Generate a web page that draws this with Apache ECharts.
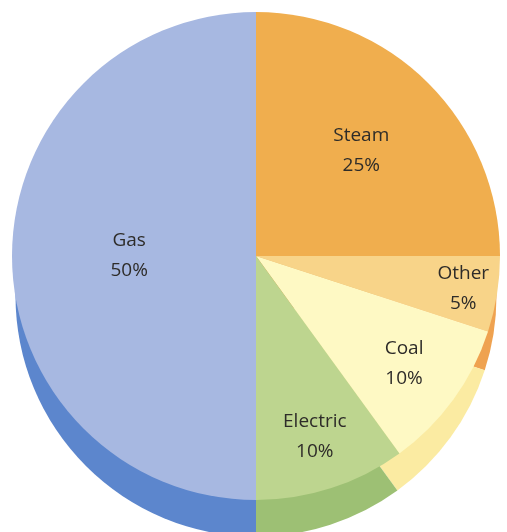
<!DOCTYPE html>
<html>
<head>
<meta charset="utf-8">
<script src="https://cdn.jsdelivr.net/npm/echarts@6/dist/echarts.min.js"></script>
<style>
  html, body { margin: 0; padding: 0; background: #ffffff; }
  #chart { width: 507px; height: 532px; }
</style>
</head>
<body>
<div id="chart"></div>
<script>
// ---- data ----
const categories = ['Steam', 'Other', 'Coal', 'Electric', 'Gas'];
const shares = [25, 5, 10, 10, 50];

// ---- styles ----
const topColors = {
  Steam: '#F0AE4E', Other: '#F8D489', Coal: '#FEF9C4', Electric: '#BDD58F', Gas: '#A7B8E1'
};
const sideColors = {
  Steam: '#E39A3C', Other: '#EFA250', Coal: '#FBEBA2', Electric: '#9DC074', Gas: '#5C86CD'
};
// label distance from centre, as fraction of radius
const labelRadiusFactor = { Steam: 0.61, Other: 0.86, Coal: 0.75, Electric: 0.78, Gas: 0.52 };

const CX = 256, CY = 256, R = 244;
const total = shares.reduce((a, b) => a + b, 0);
const midAngles = [];
let acc = 0;
shares.forEach(v => { midAngles.push((acc + v / 2) / total * 2 * Math.PI); acc += v; });

const chart = echarts.init(document.getElementById('chart'), null, { renderer: 'canvas' });

const topData = categories.map((c, i) => ({ name: c, value: shares[i], itemStyle: { color: topColors[c] } }));
const sideData = categories.map((c, i) => ({ name: c, value: shares[i], itemStyle: { color: sideColors[c] } }));

chart.setOption({
  backgroundColor: '#ffffff',
  animation: false,
  series: [
    {
      type: 'pie',
      name: 'side',
      center: [CX, CY + 40],
      radius: [0, R - 3.5],
      startAngle: 90,
      clockwise: true,
      silent: true,
      label: { show: false },
      labelLine: { show: false },
      itemStyle: { borderWidth: 0 },
      data: sideData,
      z: 1
    },
    {
      type: 'pie',
      name: 'top',
      center: [CX, CY],
      radius: [0, R],
      startAngle: 90,
      clockwise: true,
      silent: true,
      itemStyle: { borderWidth: 0 },
      label: {
        show: true,
        position: 'inside',
        formatter: p => p.name + '\n' + p.value + '%',
        fontFamily: '"Open Sans", sans-serif',
        fontSize: 19,
        lineHeight: 30,
        color: '#2e2c29',
        align: 'center'
      },
      labelLine: { show: false },
      labelLayout: function (params) {
        const i = params.dataIndex;
        const name = categories[i];
        const f = labelRadiusFactor[name];
        const a = midAngles[i];
        return {
          x: CX + f * R * Math.sin(a),
          y: CY - f * R * Math.cos(a),
          align: 'center',
          verticalAlign: 'middle'
        };
      },
      data: topData,
      z: 2
    }
  ]
});
</script>
</body>
</html>
